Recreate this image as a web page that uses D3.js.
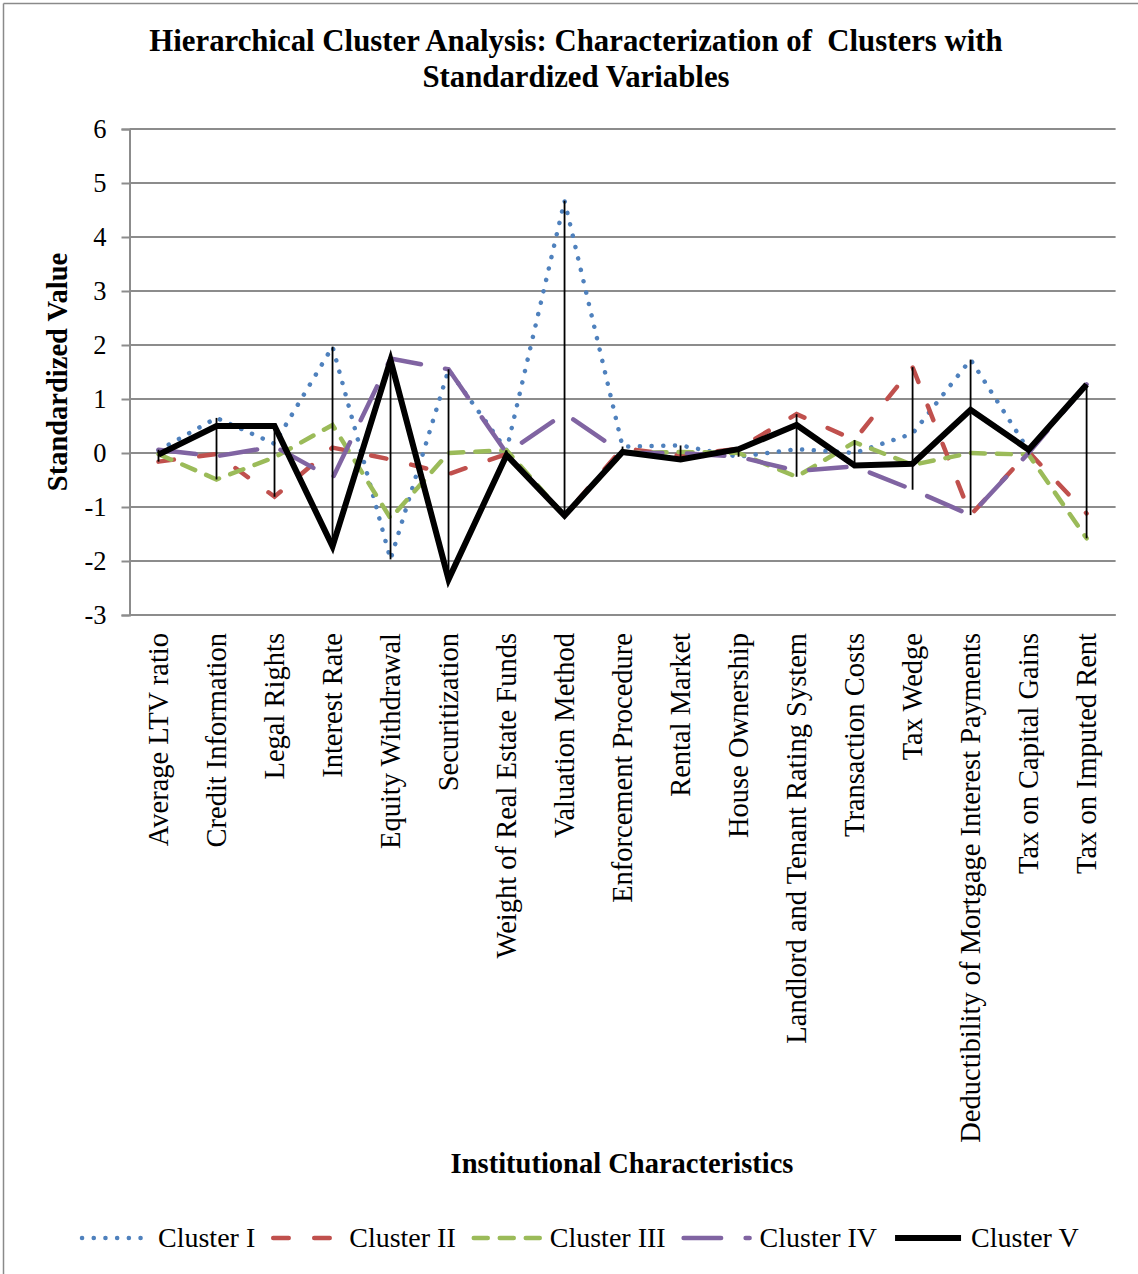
<!DOCTYPE html>
<html><head><meta charset="utf-8">
<script src="https://cdn.jsdelivr.net/npm/d3@7"></script>
<style>
html,body{margin:0;padding:0;background:#fff;}
svg{display:block;}
text{font-family:"Liberation Serif","Times New Roman",serif;fill:#000;}
</style></head>
<body><div id="chart"></div>
<script>
const categories = ["Average LTV ratio","Credit Information","Legal Rights","Interest Rate","Equity Withdrawal","Securitization","Weight of Real Estate Funds","Valuation Method","Enforcement Procedure","Rental Market","House Ownership","Landlord and Tenant Rating System","Transaction Costs","Tax Wedge","Deductibility of Mortgage Interest Payments","Tax on Capital Gains","Tax on Imputed Rent"];
const clusterI   = [0.05, 0.65, 0.17, 1.97, -1.97, 1.54, 0.05, 4.67, 0.12, 0.14, -0.07, 0.07, 0.00, 0.36, 1.73, 0.05, 1.27];
const clusterII  = [-0.16, -0.02, -0.81, 0.10, -0.12, -0.39, -0.02, -1.16, 0.09, -0.05, 0.08, 0.72, 0.24, 1.59, -1.15, 0.02, -1.12];
const clusterIII = [-0.02, -0.49, -0.08, 0.52, -1.21, 0.00, 0.05, -1.16, 0.00, 0.02, 0.00, -0.44, 0.20, -0.22, 0.00, -0.03, -1.58];
const clusterIV  = [0.06, -0.06, 0.12, -0.47, 1.75, 1.55, 0.00, 0.73, 0.00, 0.00, -0.07, -0.33, -0.25, -0.68, -1.15, 0.00, 1.27];
const clusterV   = [-0.03, 0.50, 0.50, -1.73, 1.72, -2.34, -0.04, -1.16, 0.02, -0.12, 0.07, 0.52, -0.23, -0.20, 0.80, 0.06, 1.27];
const seriesNames = ["Cluster I","Cluster II","Cluster III","Cluster IV","Cluster V"];
const yTicks = [6,5,4,3,2,1,0,-1,-2,-3];
const titleLines = ["Hierarchical Cluster Analysis: Characterization of  Clusters with","Standardized Variables"];
const xTitle = "Institutional Characteristics";
const yTitle = "Standardized Value";

(function(){
const W = 1138, H = 1274;
const svg = d3.select("#chart").append("svg").attr("width", W).attr("height", H);

// frame
svg.append("line").attr("x1",3.5).attr("x2",W).attr("y1",3.5).attr("y2",3.5).attr("stroke","#8a8a8a").attr("stroke-width",1.5);
svg.append("line").attr("x1",3.5).attr("x2",3.5).attr("y1",3.5).attr("y2",H).attr("stroke","#8a8a8a").attr("stroke-width",1.5);

const pL = 129.5, pR = 1115.6, pT = 129, pB = 615;
const x = d3.scalePoint().domain(categories).range([pL, pR]).padding(0.5);
const y = d3.scaleLinear().domain([-3, 6]).range([pB, pT]);

// gridlines
svg.append("g").selectAll("line").data(yTicks).join("line")
  .attr("x1", pL).attr("x2", pR)
  .attr("y1", d => y(d)).attr("y2", d => y(d))
  .attr("stroke", "#8c8c8c").attr("stroke-width", 2);

// y axis
const yAxis = svg.append("g").attr("transform", `translate(${pL},0)`)
  .call(d3.axisLeft(y).tickValues(yTicks).tickSize(8).tickPadding(15).tickFormat(d => String(d)));
yAxis.select(".domain").attr("stroke","#8c8c8c").attr("stroke-width",2);
yAxis.selectAll(".tick line").attr("stroke","#8c8c8c").attr("stroke-width",2);
yAxis.selectAll(".tick text").attr("font-family","Liberation Serif").attr("font-size",26.5).attr("fill","#000");

// x axis labels
const xAxis = svg.append("g").attr("transform", `translate(0,${pB})`)
  .call(d3.axisBottom(x).tickSize(0).tickPadding(0));
xAxis.select(".domain").attr("stroke","#8c8c8c").attr("stroke-width",2).attr("d", `M${pL},0H${pR}`);
xAxis.selectAll(".tick text")
  .attr("font-family","Liberation Serif").attr("font-size",28.5).attr("fill","#000")
  .attr("text-anchor","end").attr("dy",null).attr("y",0)
  .attr("transform","translate(9,18) rotate(-90)");

const data = [clusterI, clusterII, clusterIII, clusterIV, clusterV];
const styles = [
  {color:"#4F81BD", width:4.5, dash:"0.1,11.6", cap:"round"},
  {color:"#C0504D", width:4.5, dash:"15.5,25.5", cap:"round"},
  {color:"#9BBB59", width:4.5, dash:"14,12", cap:"round"},
  {color:"#8064A2", width:4.5, dash:"37.5,24.5", cap:"round"},
  {color:"#000000", width:6, dash:null, cap:"butt"}
];

const line = d3.line().x((d,i) => x(categories[i])).y(d => y(d));

const hl = categories.map((c,i) => {
  const vals = data.map(s => s[i]);
  return {c, lo: d3.min(vals), hi: d3.max(vals)};
});

data.forEach((s, k) => {
  const st = styles[k];
  if (k === 4) {
    svg.append("g").selectAll("line").data(hl).join("line")
      .attr("x1", d => x(d.c)).attr("x2", d => x(d.c))
      .attr("y1", d => y(d.hi)).attr("y2", d => y(d.lo))
      .attr("stroke","#000").attr("stroke-width",1.8);
  }
  svg.append("path").datum(s).attr("d", line)
    .attr("fill","none").attr("stroke", st.color).attr("stroke-width", st.width)
    .attr("stroke-dasharray", st.dash).attr("stroke-linecap", st.cap)
    .attr("stroke-linejoin","miter");
});

// titles
const tt = svg.append("text").attr("text-anchor","middle").attr("font-weight","bold").attr("font-size",30.8).style("white-space","pre");
titleLines.forEach((t,i) => tt.append("tspan").attr("x",576).attr("y",51 + i*36).text(t));

svg.append("text").attr("x",622).attr("y",1173).attr("text-anchor","middle")
  .attr("font-weight","bold").attr("font-size",28.5).text(xTitle);

svg.append("text").attr("transform","translate(67,372) rotate(-90)").attr("text-anchor","middle")
  .attr("font-weight","bold").attr("font-size",28.5).text(yTitle);

// legend
const lg = svg.append("g");
let lx = 82;
const ly = 1238;
seriesNames.forEach((n,k) => {
  const st = styles[k];
  const sl = 66;
  lg.append("line").attr("x1", lx).attr("x2", lx + sl).attr("y1", ly).attr("y2", ly)
    .attr("stroke", st.color).attr("stroke-width", st.width)
    .attr("stroke-dasharray", st.dash).attr("stroke-linecap", st.cap);
  const t = lg.append("text").attr("x", lx + sl + 10).attr("y", ly + 9).attr("font-size",28).text(n);
  lx = lx + sl + 10 + t.node().getComputedTextLength() + 18;
});
})();
</script></body></html>
